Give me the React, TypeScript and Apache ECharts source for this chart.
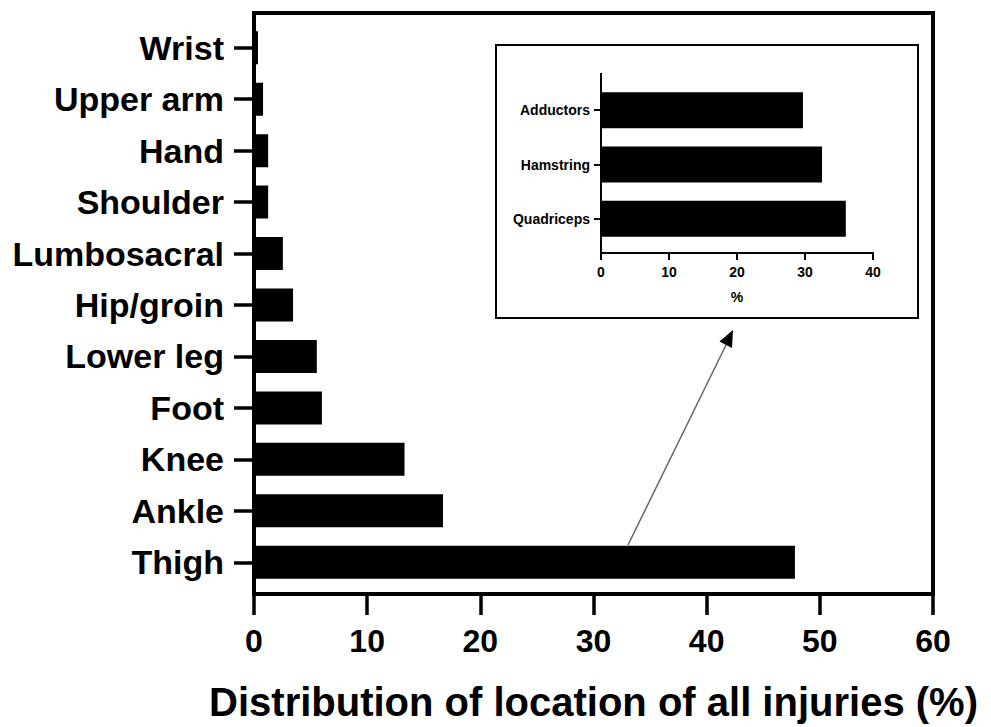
import React, { useEffect, useRef } from "react";
import * as echarts from "echarts";

const categories = ["Wrist", "Upper arm", "Hand", "Shoulder", "Lumbosacral", "Hip/groin", "Lower leg", "Foot", "Knee", "Ankle", "Thigh"];
const values = [0.35, 0.8, 1.25, 1.25, 2.55, 3.45, 5.55, 6.0, 13.3, 16.7, 47.8];
const xTicks = { min: 0, max: 60, interval: 10 };

const insetCategories = ["Adductors", "Hamstring", "Quadriceps"];
const insetValues = [29.7, 32.5, 36.0];
const insetTicks = { min: 0, max: 40, interval: 10 };

const FONT = "'Liberation Sans', Arial, Helvetica, sans-serif";

export default function App() {
  const ref = useRef<HTMLDivElement>(null);
  useEffect(() => {
    if (!ref.current) return;
    const chart = echarts.init(ref.current, null, { renderer: "svg" });
    const option: any = {
      animation: false,
      backgroundColor: "#ffffff",
      textStyle: { fontFamily: FONT },
      grid: [
        { left: 254, top: 22, width: 679, height: 566, containLabel: false },
        { left: 601, top: 83, width: 272, height: 163, containLabel: false },
      ],
      xAxis: [
        {
          gridIndex: 0,
          type: "value",
          min: xTicks.min,
          max: xTicks.max,
          interval: xTicks.interval,
          offset: 6,
          splitLine: { show: false },
          axisLine: { show: false },
          axisTick: { show: true, length: 21, lineStyle: { color: "#000", width: 3.5 } },
          axisLabel: { color: "#000", fontSize: 32, fontWeight: "bold", fontFamily: FONT, margin: 31 },
          name: "Distribution of location of all injuries (%)",
          nameLocation: "middle",
          nameGap: 88,
          nameTextStyle: { color: "#000", fontSize: 40, fontWeight: "bold", fontFamily: FONT },
        },
        {
          gridIndex: 1,
          type: "value",
          min: insetTicks.min,
          max: insetTicks.max,
          interval: insetTicks.interval,
          offset: 7,
          splitLine: { show: false },
          axisLine: { show: true, lineStyle: { color: "#000", width: 2 } },
          axisTick: { show: true, length: 7, lineStyle: { color: "#000", width: 2 } },
          axisLabel: { color: "#000", fontSize: 14, fontWeight: "bold", fontFamily: FONT, margin: 12 },
          name: "%",
          nameLocation: "middle",
          nameGap: 37,
          nameTextStyle: { color: "#000", fontSize: 14, fontWeight: "bold", fontFamily: FONT },
        },
      ],
      yAxis: [
        {
          gridIndex: 0,
          type: "category",
          data: categories,
          inverse: true,
          axisLine: { show: false },
          axisTick: { show: true, alignWithLabel: true, length: 20, lineStyle: { color: "#000", width: 3.5 } },
          axisLabel: { color: "#000", fontSize: 34, fontWeight: "bold", fontFamily: FONT, margin: 30 },
          splitLine: { show: false },
        },
        {
          gridIndex: 1,
          type: "category",
          data: insetCategories,
          inverse: true,
          axisLine: { show: false },
          axisTick: { show: true, alignWithLabel: true, length: 7, lineStyle: { color: "#000", width: 2 } },
          axisLabel: { color: "#000", fontSize: 14, fontWeight: "bold", fontFamily: FONT, margin: 11 },
          splitLine: { show: false },
        },
      ],
      series: [
        {
          type: "bar",
          xAxisIndex: 0,
          yAxisIndex: 0,
          data: values,
          barWidth: 33,
          itemStyle: { color: "#000" },
        },
        {
          type: "bar",
          xAxisIndex: 1,
          yAxisIndex: 1,
          data: insetValues,
          barWidth: 36,
          itemStyle: { color: "#000" },
        },
      ],
      graphic: [
        {
          type: "rect",
          shape: { x: 254, y: 13, width: 679, height: 581 },
          style: { fill: "none", stroke: "#000", lineWidth: 4 },
          silent: true,
        },
        {
          type: "rect",
          shape: { x: 496, y: 45, width: 422, height: 273 },
          style: { fill: "none", stroke: "#000", lineWidth: 2 },
          silent: true,
        },
        {
          type: "line",
          shape: { x1: 601, y1: 73, x2: 601, y2: 253 },
          style: { stroke: "#000", lineWidth: 2 },
          silent: true,
        },
        {
          type: "line",
          shape: { x1: 628, y1: 545, x2: 727, y2: 343 },
          style: { stroke: "#666", lineWidth: 1.5 },
          silent: true,
        },
        {
          type: "polygon",
          shape: { points: [[733, 330], [732, 348], [719.5, 341.5]] },
          style: { fill: "#000" },
          silent: true,
        },
      ],
    };
    chart.setOption(option);
    return () => chart.dispose();
  }, []);
  return <div ref={ref} style={{ position: "absolute", left: 0, top: 0, width: 991, height: 727 }} />;
}
